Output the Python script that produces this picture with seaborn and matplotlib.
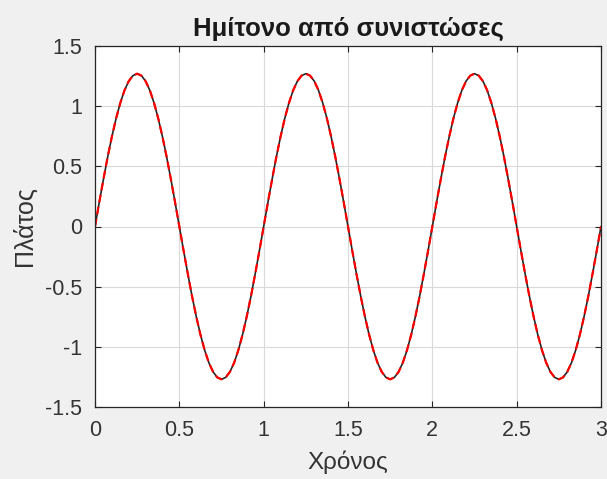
import matplotlib
matplotlib.use("Agg")
import matplotlib.pyplot as plt
import seaborn as sns
import pandas as pd

# Time samples (s), every 0.025 s from 0 to 3
t = [i * 0.025 for i in range(121)]

# Signal values (one value per time sample)
y_period = [0.0, 0.199, 0.392, 0.577, 0.746, 0.898, 1.027, 1.132, 1.208, 1.254,
            1.27, 1.254, 1.208, 1.132, 1.027, 0.898, 0.746, 0.577, 0.392, 0.199,
            0.0, -0.199, -0.392, -0.577, -0.746, -0.898, -1.027, -1.132, -1.208, -1.254,
            -1.27, -1.254, -1.208, -1.132, -1.027, -0.898, -0.746, -0.577, -0.392, -0.199]
y_signal = y_period + y_period + y_period + [0.0]
y_components = list(y_signal)

x_ticks = [0, 0.5, 1, 1.5, 2, 2.5, 3]
x_ticklabels = ["0", "0.5", "1", "1.5", "2", "2.5", "3"]
y_ticks = [-1.5, -1, -0.5, 0, 0.5, 1, 1.5]
y_ticklabels = ["-1.5", "-1", "-0.5", "0", "0.5", "1", "1.5"]

title = "Ημίτονο από συνιστώσες"
xlabel = "Χρόνος"
ylabel = "Πλάτος"

sns.set_theme(style="white")
plt.rcParams['font.family'] = ['Liberation Sans', 'DejaVu Sans']

df = pd.DataFrame({"t": t, "signal": y_signal, "components": y_components})

fig = plt.figure(figsize=(6.07, 4.79), dpi=100, facecolor="#f0f0f0")
ax = fig.add_axes([95 / 607, 1 - 407 / 479, (601 - 95) / 607, (407 - 46) / 479])
ax.set_facecolor("white")

sns.lineplot(data=df, x="t", y="signal", ax=ax, color="#262626", linewidth=1.2)
sns.lineplot(data=df, x="t", y="components", ax=ax, color="#ff0000",
             linewidth=1.6, linestyle=(0, (3.5, 2)))

ax.set_xlim(0, 3)
ax.set_ylim(-1.5, 1.5)
ax.set_xticks(x_ticks)
ax.set_xticklabels(x_ticklabels)
ax.set_yticks(y_ticks)
ax.set_yticklabels(y_ticklabels)
ax.grid(True, color="#d9d9d9", linewidth=0.8)
ax.tick_params(direction="in", length=4, width=0.8, colors="#262626",
               labelsize=15.5, top=True, right=True, bottom=True, left=True,
               labelcolor="#333333", pad=9)
for s in ax.spines.values():
    s.set_color("#262626")
    s.set_linewidth(0.9)

ax.set_title(title, fontsize=18.5, fontweight="bold", color="#1a1a1a", pad=7)
ax.set_xlabel(xlabel, fontsize=17.5, color="#333333", labelpad=7)
ax.set_ylabel(ylabel, fontsize=18, color="#333333", labelpad=6)

fig.savefig("out.png", dpi=100, facecolor=fig.get_facecolor())
